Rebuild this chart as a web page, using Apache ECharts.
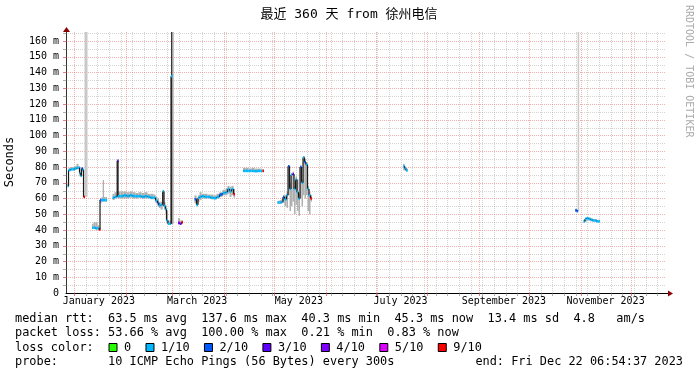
<!DOCTYPE html>
<html><head><meta charset="utf-8">
<script src="https://cdn.jsdelivr.net/npm/echarts@6/dist/echarts.min.js"></script>
<style>html,body{margin:0;padding:0;background:#fff}#c{width:697px;height:375px}</style>
</head><body><div id="c"></div>
<script>
// ---- axis / label data ----
const monthStarts = [0, 31, 59, 90, 120, 151, 181, 212, 243, 273, 304, 334]; // days since 2023-01-01
const monthLabelDays = [15, 74, 135, 196, 258, 319];
const monthLabels = ['January 2023', 'March 2023', 'May 2023', 'July 2023', 'September 2023', 'November 2023'];
const xMin = -4.7125, xMax = 355.2875;   // 2022-12-27 06:54:37 .. 2023-12-22 06:54:37
const yMax = 165.7;
const lossColors = ['#26ff00', '#00b8ff', '#0059ff', '#5e00ff', '#7e00ff', '#dd00ff', '#ff0000'];
const lossLabels = ['0', '1/10', '2/10', '3/10', '4/10', '5/10', '9/10'];

// ---- series data (days since 2023-01-01, ms); null in days = gap ----
const days = [
  -3.8, -3.2, -2.0, -0.8, 0.4, 1.6, 2.8, 3.4, 4.0, 4.6, 5.2, 5.8, 6.4, 7.3, null,
  10.9, 11.8, 13.0, 14.2, 15.1, 15.7, 16.6, 17.3, 18.1, 19.0, null,
  23.2, 24.4, 25.6, 26.0, 26.5, 28.0, 29.8, 31.6, 33.4, 35.2, 37.0, 38.8, 40.6, 42.4, 44.2, 46.0, 47.8, 49.0, 50.2, 51.1, 52.0, 53.3, 54.1, 55.0, 55.6, 56.5, 57.4, 58.3, 59.2, null,
  62.5, 63.7, 64.6, null,
  72.4, 73.6, 74.5, 75.4, 76.6, 78.4, 80.2, 82.0, 83.8, 85.6, 87.4, 89.2, 91.0, 92.2, 93.4, 94.6, 95.8, null,
  101.5, 103.0, 104.8, 106.6, 108.4, 110.2, 112.0, 113.2, null,
  122.2, 123.4, 124.6, 125.5, 126.4, 127.6, 128.5, 129.4, 130.3, 131.2, 132.1, 133.0, 133.9, 134.8, 135.7, 136.6, 137.5, 138.4, 139.3, 140.2, 141.1, 142.0, null,
  197.6, 198.5, 199.4, null,
  300.8, 301.7, 302.3, null,
  305.8, 306.7, 307.6, 308.8, 310.0, 311.2, 312.4, 313.6, 314.8
];
const median = [
  68, 78, 78.5, 78.5, 79, 79.5, 79.5, 76, 74.5, 79, 78, 61, null, null, null,
  41.5, 41.5, 41, 41, 40.3, 59, 59, 59, 59, 59, null,
  60.5, 61, 61.5, 84, 61.5, 61.5, 62, 61.5, 62, 61.5, 61.5, 61.5, 61, 61.5, 61, 60.5, 60.5, 58.6, 57, 55.5, 56, 64.5, 55, 53, 46, 44, 44, 137.6, null, null,
  44.5, 44, 45, null,
  59.5, 56, 60.5, 61, 61.5, 61, 61, 60.5, 60.2, 61, 62.5, 63.5, 64, 66, 64.5, 66, 62.7, null,
  77.5, 77.5, 77.5, 77.5, 77.3, 77.5, 77.5, 77.5, null,
  57.5, 57.5, 58, 61, 59.5, 62, 80.5, 66, 75, 75.5, 66, 72, 64, 60, 80, 70, 86, 83, 81.5, 66, 62, 60, null,
  80.5, 79, 78, null,
  52.5, 52, null, null,
  45.5, 47, 47.5, 47, 46.5, 46, 46, 45.5, 45.5
];
const smokeLo = [
  67, 77.5, 78, 78, 78.5, 78.5, 79, 74, 73.5, 78, 77, 60.5, 61, 61, null,
  41, 41, 40.5, 40.5, 40, 57, 58, 58, 58, 58, null,
  59, 60, 60, 61, 60, 60, 60, 60, 60.5, 60, 60, 60.5, 60, 60, 60, 59.5, 59.5, 57, 55, 54, 53, 55, 53, 50, 44, 43.5, 43.5, 44, 44, null,
  43.5, 43.5, 44, null,
  57, 55, 58, 59, 60, 60, 60, 59.5, 59.5, 60, 61, 62, 62, 63, 61, 62, 60.5, null,
  77, 77, 77, 77, 76.8, 77, 77, 77, null,
  56.5, 56.5, 57, 57, 55, 54, 62, 52, 55, 58, 50, 56, 52, 49, 60, 55, 62, 60, 62, 52, 50, 58, null,
  78, 77.5, 77, null,
  51.5, 51.5, 52, null,
  44.5, 45, 46, 46, 45.5, 45.5, 45.5, 45, 45
];
const smokeHi = [
  70, 79.5, 80, 80, 80.5, 82, 80.5, 80, 77, 80, 79.5, 62, 165.7, 165.7, null,
  44, 45, 45, 43, 42, 60, 61, 71.7, 61, 61, null,
  63, 64, 64, 84, 64.5, 64.5, 64.5, 64, 64.5, 64, 63.5, 64, 63.5, 64, 63, 63, 62.5, 61, 60, 58, 58, 65.5, 58, 56, 52, 46, 46, 165.7, 165.7, null,
  47.5, 46, 46, null,
  62, 60, 62, 64, 63, 63, 62.5, 62.5, 62, 63, 64, 65.5, 66.5, 68, 67.5, 68, 66, null,
  79.5, 79.5, 79, 79.5, 79, 79, 78.5, 78.5, null,
  58.5, 59, 60, 62, 62, 64, 81, 70, 76, 77, 68, 74, 72, 63, 81, 72, 87, 85, 83, 68, 64, 62, null,
  82, 80, 79, null,
  53.5, 53, 165.7, null,
  46.5, 48, 48, 48, 47.5, 47, 47, 46.5, 46.5
];
// dense core of the smoke (only where the ping spread collapses into a dark band)
const coreLo = { 58.3: 44 };
const coreHi = { 58.3: 165.7 };
const lossLevel = [
  1, 1, 1, 1, 1, 1, 1, 1, 1, 2, 1, 6, null, null, null,
  1, 1, 1, 1, 6, 2, 1, 1, 1, 1, null,
  1, 1, 1, 3, 1, 1, 1, 1, 1, 1, 1, 1, 1, 1, 1, 1, 1, 1, 2, 1, 1, 1, 1, 1, 1, 1, 1, 1, null, null,
  4, 4, 6, null,
  2, 1, 1, 1, 1, 1, 1, 1, 1, 1, 2, 1, 1, 1, 1, 1, 6, null,
  1, 1, 1, 1, 1, 1, 1, 6, null,
  1, 1, 1, 2, 1, 1, 2, 1, 1, 4, 1, 1, 1, 1, 2, 1, 1, 2, 1, 1, 1, 6, null,
  1, 1, 1, null,
  2, 2, null, null,
  1, 1, 1, 1, 1, 1, 1, 1, 1
];

// ---- build rows ----
const rows = [];
for (let i = 0; i < days.length; i++) {
  if (days[i] === null) continue;
  const hasNext = i + 1 < days.length && days[i + 1] !== null;
  const hasPrev = i > 0 && days[i - 1] !== null;
  rows.push({
    day: days[i], next: hasNext ? days[i + 1] : days[i] + 0.9,
    med: median[i], lo: smokeLo[i], hi: smokeHi[i], loss: lossLevel[i],
    cLo: coreLo[days[i]], cHi: coreHi[days[i]],
    prevMed: hasPrev ? median[i - 1] : null
  });
}

// ---- grid lines ----
const gridItems = [];
for (let d = 0; d <= xMax; d += 7) if (monthStarts.indexOf(d) < 0) gridItems.push({ dir: 'x', v: d, major: false });
for (let v = 5; v <= yMax; v += 10) gridItems.push({ dir: 'y', v: v, major: false });
monthStarts.forEach(d => gridItems.push({ dir: 'x', v: d, major: true }));
for (let v = 10; v <= 160; v += 10) gridItems.push({ dir: 'y', v: v, major: true });

const MONO = '"DejaVu Sans Mono", monospace';
const chart = echarts.init(document.getElementById('c'), null, { renderer: 'canvas' });

function renderGrid(params, api) {
  const g = gridItems[params.dataIndex];
  const cs = params.coordSys;
  const col = g.major ? 'rgba(225,70,70,0.42)' : 'rgba(120,120,120,0.32)';
  const colT = g.major ? 'rgba(225,70,70,0.7)' : 'rgba(120,120,120,0.6)';
  if (g.dir === 'x') {
    const px = Math.round(api.coord([g.v, 0])[0]) + 0.5;
    return { type: 'group', children: [
      { type: 'line', shape: { x1: px, y1: cs.y, x2: px, y2: cs.y + cs.height }, style: { stroke: col, lineWidth: 1, lineDash: [1, 1] } },
      { type: 'line', shape: { x1: px, y1: cs.y + cs.height, x2: px, y2: cs.y + cs.height + 3 }, style: { stroke: colT, lineWidth: 1 } }
    ] };
  }
  const py = Math.round(api.coord([xMin, g.v])[1]) + 0.5;
  return { type: 'group', children: [
    { type: 'line', shape: { x1: cs.x, y1: py, x2: cs.x + cs.width, y2: py }, style: { stroke: col, lineWidth: 1, lineDash: [1, 1] } },
    { type: 'line', shape: { x1: cs.x - 3, y1: py, x2: cs.x, y2: py }, style: { stroke: colT, lineWidth: 1 } }
  ] };
}

function renderSmoke(params, api) {
  const r = rows[params.dataIndex];
  const x0 = api.coord([r.day, 0])[0];
  const x1 = api.coord([r.next, 0])[0];
  const w = Math.max(1, x1 - x0);
  const yLo = api.coord([r.day, r.lo])[1], yHi = api.coord([r.day, r.hi])[1];
  const ch = [{ type: 'rect', shape: { x: x0, y: yHi, width: w, height: Math.max(1, yLo - yHi) },
    style: { fill: r.med == null ? '#c8c8c8' : '#b0b0b0' } }];
  if (r.cLo != null) {
    const a = api.coord([r.day, r.cLo])[1], b = api.coord([r.day, r.cHi])[1];
    ch.push({ type: 'rect', shape: { x: x0, y: b, width: w, height: a - b }, style: { fill: '#353535' } });
  }
  return { type: 'group', children: ch };
}

function renderMedian(params, api) {
  const r = rows[params.dataIndex];
  if (r.med == null) return null;
  const x0 = api.coord([r.day, 0])[0];
  const x1 = api.coord([r.next, 0])[0];
  const y = api.coord([r.day, r.med])[1];
  const ch = [];
  if (r.prevMed != null) {
    const yp = api.coord([r.day, r.prevMed])[1];
    ch.push({ type: 'line', shape: { x1: x0, y1: yp, x2: x0, y2: y }, style: { stroke: '#1a1a1a', lineWidth: 1.2 } });
  }
  ch.push({ type: 'rect', shape: { x: x0, y: y - 1.25, width: Math.max(1.5, x1 - x0), height: 2.5 },
    style: { fill: lossColors[r.loss] } });
  return { type: 'group', children: ch };
}

const FS = '11.9px ';
const legendGraphics = [];
const rowY = [319, 333, 348, 362];
const textStyle = (t, x, y, align) => ({ type: 'text', x: x, y: y,
  style: { text: t, font: FS + MONO, fill: '#000', align: align || 'left', verticalAlign: 'middle' } });
legendGraphics.push(textStyle('median rtt:  63.5 ms avg  137.6 ms max  40.3 ms min  45.3 ms now  13.4 ms sd  4.8   am/s', 15, rowY[0]));
legendGraphics.push(textStyle('packet loss: 53.66 % avg  100.00 % max  0.21 % min  0.83 % now', 15, rowY[1]));
legendGraphics.push(textStyle('loss color:', 15, rowY[2]));
const cw = 7.16;
let lx = 108.5;
lossLabels.forEach((lab, i) => {
  legendGraphics.push({ type: 'rect', shape: { x: lx + 0.5, y: rowY[2] - 4.5, width: 8, height: 8 },
    style: { fill: lossColors[i], stroke: '#000', lineWidth: 1 } });
  legendGraphics.push(textStyle(lab, lx + 15.5, rowY[2]));
  lx += 15.5 + (lab.length + 2) * cw;
});
legendGraphics.push(textStyle('probe:       10 ICMP Echo Pings (56 Bytes) every 300s', 15, rowY[3]));
legendGraphics.push(textStyle('end: Fri Dec 22 06:54:37 2023', 683, rowY[3], 'right'));
legendGraphics.push({ type: 'text', x: 349, y: 15, style: { text: '最近 360 天 from 徐州电信',
  font: '13px "DejaVu Sans Mono", "Noto Sans CJK SC", monospace', fill: '#000', align: 'center', verticalAlign: 'middle' } });
legendGraphics.push({ type: 'text', x: 10, y: 162, rotation: Math.PI / 2, style: { text: 'Seconds',
  font: '12px ' + MONO, fill: '#000', align: 'center', verticalAlign: 'middle' } });
legendGraphics.push({ type: 'text', x: 689, y: 5, rotation: -Math.PI / 2, style: { text: 'RRDTOOL / TOBI OETIKER',
  font: '10px ' + MONO, fill: '#aaaaaa', align: 'left', verticalAlign: 'middle' } });

const option = {
  animation: false,
  backgroundColor: '#ffffff',
  grid: { left: 66, top: 32, width: 600, height: 261, containLabel: false, outerBoundsMode: 'none' },
  xAxis: {
    type: 'value', min: xMin, max: xMax,
    splitLine: { show: false }, axisTick: { show: false },
    axisLine: { show: true, onZero: false, lineStyle: { color: '#000', width: 1 } },
    axisLabel: { customValues: monthLabelDays, formatter: v => monthLabels[monthLabelDays.indexOf(v)] || '',
      fontFamily: MONO, fontSize: 10, color: '#000', margin: 3, hideOverlap: false }
  },
  yAxis: {
    type: 'value', min: 0, max: yMax, interval: 10,
    splitLine: { show: false }, axisTick: { show: false },
    axisLine: { show: true, onZero: false, lineStyle: { color: '#333', width: 1 } },
    axisLabel: { formatter: v => (v % 10 === 0 && v <= 160) ? (v === 0 ? '0' : v + ' m') : '',
      fontFamily: MONO, fontSize: 10, color: '#000', margin: 7, showMaxLabel: false }
  },
  graphic: legendGraphics,
  series: [
    { type: 'custom', name: 'grid', z: 1, silent: true, renderItem: renderGrid, clip: false,
      data: gridItems.map(g => g.dir === 'x' ? [g.v, 0] : [xMin, g.v]) },
    { type: 'custom', name: 'smoke', z: 2, silent: true, renderItem: renderSmoke, clip: true,
      data: rows.map(r => [r.day, r.lo, r.hi]) },
    { type: 'custom', name: 'median', z: 3, silent: true, renderItem: renderMedian, clip: true,
      data: rows.map(r => [r.day, r.med == null ? r.hi : r.med]) }
  ]
};
chart.setOption(option);

// axis arrows
const pX = chart.convertToPixel({ gridIndex: 0 }, [xMax, 0]);
const pY = chart.convertToPixel({ gridIndex: 0 }, [xMin, yMax]);
chart.setOption({ graphic: legendGraphics.concat([
  { type: 'line', shape: { x1: pX[0], y1: pX[1] + 0.5, x2: pX[0] + 3, y2: pX[1] + 0.5 }, style: { stroke: '#000', lineWidth: 1 } },
  { type: 'polygon', shape: { points: [[pX[0] + 2, pX[1] - 2.5], [pX[0] + 7, pX[1] + 0.5], [pX[0] + 2, pX[1] + 3.5]] }, style: { fill: '#8b0000' } },
  { type: 'polygon', shape: { points: [[pY[0] - 3, pY[1]], [pY[0] + 0.5, pY[1] - 5], [pY[0] + 4, pY[1]]] }, style: { fill: '#8b0000' } }
]) });
</script></body></html>
